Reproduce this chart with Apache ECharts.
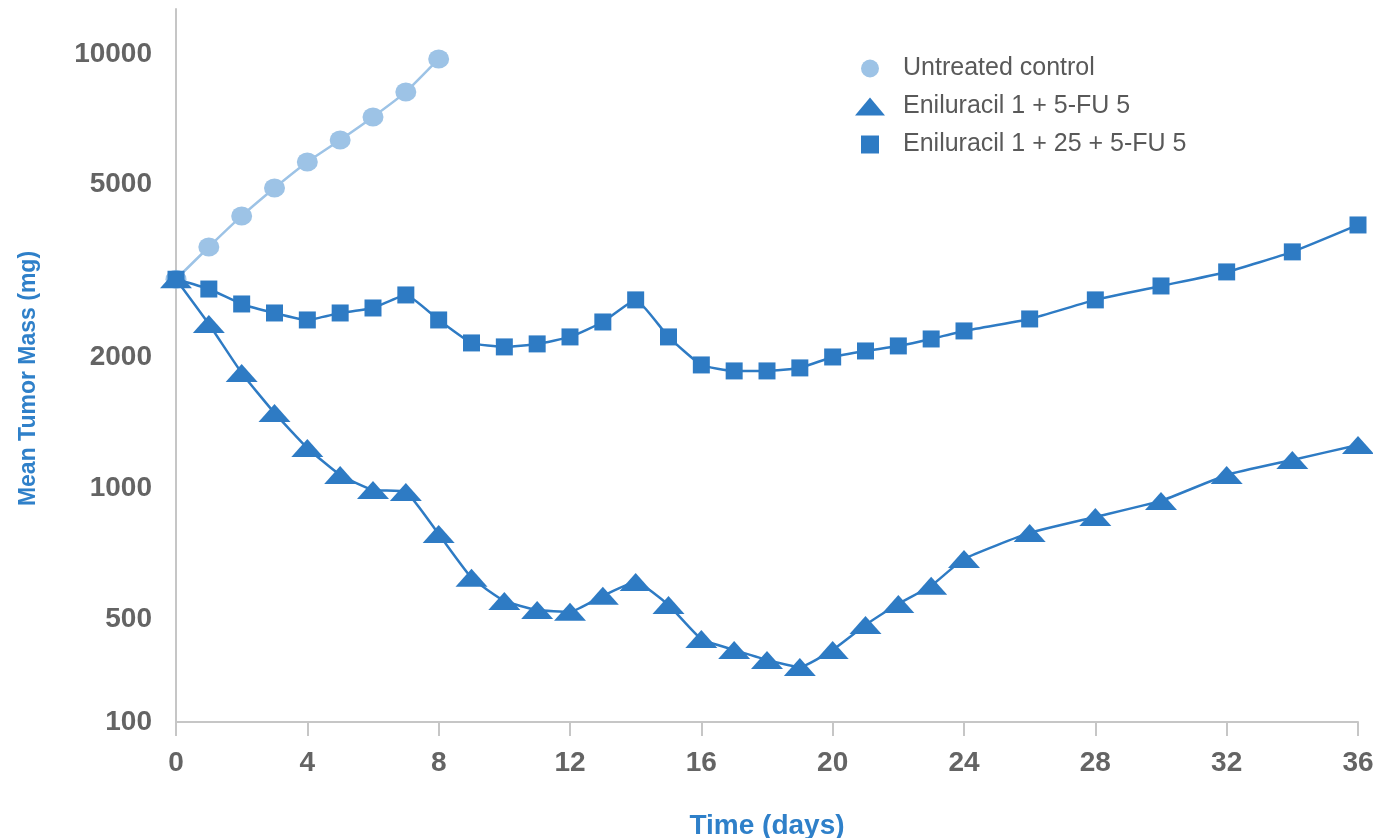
<!DOCTYPE html>
<html>
<head>
<meta charset="utf-8">
<script src="https://cdn.jsdelivr.net/npm/echarts@6/dist/echarts.min.js"></script>
<style>
html,body{margin:0;padding:0;background:#fff;}
#chart{width:1373px;height:838px;}
</style>
</head>
<body>
<div id="chart"></div>
<script>
// ---- data ----
const seriesNames = ['Untreated control', 'Eniluracil 1 + 5-FU 5', 'Eniluracil 1 + 25 + 5-FU 5'];

const controlDays = [0, 1, 2, 3, 4, 5, 6, 7, 8];
const controlMass = [3030, 3595, 4238, 4915, 5642, 6340, 7161, 8177, 9739];

const treatDays = [0, 1, 2, 3, 4, 5, 6, 7, 8, 9, 10, 11, 12, 13, 14, 15, 16, 17, 18, 19, 20, 21, 22, 23, 24, 26, 28, 30, 32, 34, 36];
const eni5Mass = [3030, 2390, 1844, 1492, 1239, 1074, 992, 981, 785, 623, 551, 525, 520, 566, 609, 539, 450, 425, 403, 388, 425, 485, 542, 597, 688, 790, 860, 936, 1074, 1163, 1259];
const eni25Mass = [3030, 2877, 2658, 2534, 2442, 2534, 2602, 2788, 2442, 2162, 2117, 2151, 2232, 2416, 2716, 2232, 1924, 1864, 1864, 1894, 2007, 2072, 2128, 2208, 2304, 2455, 2716, 2924, 3150, 3503, 4040];

// y axis: broken log axis; the bottom of the axis is labelled "100"
const yTickValues = [290, 500, 1000, 2000, 5000, 10000];
const yTickLabels = ['100', '500', '1000', '2000', '5000', '10000'];
const yMin = 290, yMax = 12690;

const xMin = 0, xMax = 36, xInterval = 4;

function pairs(xs, ys) { return xs.map((x, i) => [x, ys[i]]); }

const lightBlue = '#9dc3e6';
const blue = '#2e7bc4';
const tickLabelColor = '#646464';
const axisColor = '#c6c6c6';
const titleColor = '#2f80c9';
const font = "'Liberation Sans', Arial, sans-serif";

const chart = echarts.init(document.getElementById('chart'), null, {renderer: 'canvas'});

function yLabel(v) {
  for (let i = 0; i < yTickValues.length; i++) {
    if (Math.abs(v - yTickValues[i]) / yTickValues[i] < 0.01) return yTickLabels[i];
  }
  return '';
}

const option = {
  backgroundColor: '#ffffff',
  animation: false,
  grid: {left: 176, right: 15, top: 9, bottom: 116, containLabel: false, outerBoundsMode: 'none'},
  legend: {
    orient: 'vertical',
    left: 850,
    top: 51,
    itemWidth: 30,
    itemHeight: 18,
    itemGap: 13,
    textStyle: {fontFamily: font, fontSize: 25, color: '#595959', padding: [0, 0, 0, 13]},
    data: [
      {name: seriesNames[0], icon: 'circle'},
      {name: seriesNames[1], icon: 'triangle'},
      {name: seriesNames[2], icon: 'path://M0,0H16V16H0Z'}
    ]
  },
  xAxis: {
    type: 'value',
    min: xMin, max: xMax, interval: xInterval,
    name: 'Time (days)',
    nameLocation: 'middle',
    nameGap: 90,
    nameTextStyle: {fontFamily: font, fontSize: 28, fontWeight: 'bold', color: titleColor},
    axisLine: {show: true, lineStyle: {color: axisColor, width: 2}},
    axisTick: {show: true, length: 14, inside: false, lineStyle: {color: axisColor, width: 2}},
    axisLabel: {margin: 27, fontFamily: font, fontSize: 28, fontWeight: 'bold', color: tickLabelColor},
    splitLine: {show: false}
  },
  yAxis: {
    type: 'log',
    logBase: 10,
    min: yMin, max: yMax,
    name: 'Mean Tumor Mass (mg)',
    nameLocation: 'middle',
    nameGap: 136,
    nameRotate: 90,
    nameTextStyle: {fontFamily: font, fontSize: 23, fontWeight: 'bold', color: titleColor, padding: [0, 26, 0, 0]},
    axisLine: {show: true, lineStyle: {color: axisColor, width: 2}},
    axisTick: {show: false},
    axisLabel: {
      customValues: yTickValues,
      margin: 24,
      fontFamily: font, fontSize: 28, fontWeight: 'bold', color: tickLabelColor,
      formatter: yLabel
    },
    splitLine: {show: false}
  },
  series: [
    {
      name: seriesNames[0], type: 'line', smooth: 0.15,
      data: pairs(controlDays, controlMass),
      symbol: 'circle', symbolSize: [21, 19],
      itemStyle: {color: lightBlue},
      lineStyle: {color: lightBlue, width: 2.5},
      z: 2
    },
    {
      name: seriesNames[2], type: 'line', smooth: 0.15,
      data: pairs(treatDays, eni25Mass),
      symbol: 'rect', symbolSize: 17,
      itemStyle: {color: blue},
      lineStyle: {color: blue, width: 2.5},
      z: 3
    },
    {
      name: seriesNames[1], type: 'line', smooth: 0.15,
      data: pairs(treatDays, eni5Mass),
      symbol: 'triangle', symbolSize: [32, 18],
      itemStyle: {color: blue},
      lineStyle: {color: blue, width: 2.5},
      z: 4
    }
  ]
};
chart.setOption(option);
</script>
</body>
</html>
